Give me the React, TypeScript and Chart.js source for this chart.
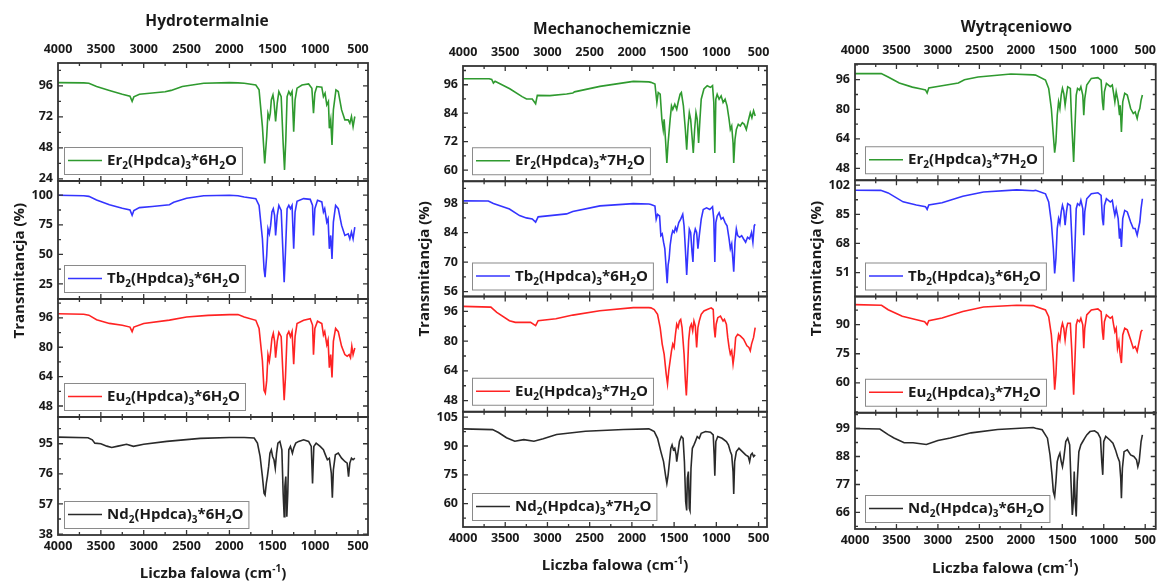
import React, { useEffect, useRef } from "react";
import { Chart, registerables } from "chart.js";

Chart.register(...registerables);

// ---------- axis ticks ----------
const X_TICKS = [4000, 3500, 3000, 2500, 2000, 1500, 1000, 500];
const X_MINOR = [3750, 3250, 2750, 2250, 1750, 1250, 750];

// ---------- Hydrotermalnie ----------
const HY_ER_WN = [4000,3700,3640,3550,3400,3250,3160,3135,3115,3050,2900,2750,2680,2550,2300,2000,1900,1827,1692,1654,1615,1588,1565,1550,1534,1523,1511,1492,1480,1461,1442,1423,1396,1373,1357,1342,1327,1307,1288,1269,1250,1234,1211,1153,1076,1038,1019,1003,980,922,903,884,864,845,834,818,803,787,757,730,691,653,614,595,576,557,537];
const HY_ER_T = [98.5,98.3,98,95.5,92.5,89.5,88,84,87.5,89.5,90.5,91.5,92.5,95.5,98,98.5,98.3,98,96.7,92.9,64.5,36,56.8,74.8,71,74.8,85.1,89,83.9,68.4,82.6,91.6,87.7,51.6,31,54.2,87.7,91.6,89,91.6,60.6,85.1,94.2,96.7,97.5,94.2,74.8,90.3,95.5,95,87.7,90.3,81.3,83.9,63.2,69.7,50.3,77.4,92.9,91.6,77.4,69.7,69.7,67.1,72.3,64.5,72.3];

const HY_TB_WN = [4000,3700,3640,3550,3400,3250,3160,3135,3115,3050,2900,2700,2650,2500,2300,2000,1900,1827,1692,1654,1615,1596,1584,1565,1550,1534,1519,1504,1488,1473,1461,1442,1423,1396,1377,1361,1346,1327,1307,1288,1269,1250,1234,1211,1134,1057,1030,1019,1003,972,922,903,888,864,849,834,818,803,787,761,730,691,653,614,595,576,557,537];
const HY_TB_T = [100,99.5,99,96,92,89,87.5,83,87,89.5,90.5,92,94,97.5,99.5,100,99.5,98.5,97.1,91.4,63.2,37.8,30.7,49,71.6,67.4,74.5,85.8,88.6,83,66,83,91.4,87.2,54.7,26.5,51.9,88.6,91.4,88.6,91.4,54.7,85.8,94.8,97.1,96.5,91.4,66,88.6,95.7,94.3,85.8,88.6,77.3,80.1,54.7,66,46.2,77.3,91.4,88.6,74.5,66,67.4,63.2,68.8,63.2,73.1];

const HY_EU_WN = [4000,3700,3640,3550,3400,3250,3160,3135,3115,3000,2700,2500,2250,2000,1900,1827,1692,1654,1615,1596,1581,1565,1550,1534,1519,1504,1488,1473,1461,1442,1423,1396,1377,1361,1346,1327,1307,1288,1269,1250,1234,1211,1134,1057,1030,1019,1003,972,922,903,888,864,849,834,818,803,787,761,730,691,653,626,603,587,572,557,537];
const HY_EU_T = [98.3,98,97.5,95,93,92,91,88.5,91,93,94.8,96.5,97.4,97.8,97.8,96.5,94.7,90.3,72.5,56.5,55,61.8,76,72.5,77.8,84.9,87.6,83.2,74.3,83.2,88.1,85.8,67.1,51.2,63.6,86.7,88.5,85.8,88.5,70.7,85.8,92.9,94.7,95.6,92.1,76,90.3,94.2,92.9,86.7,88.5,81.4,84,68.9,76,63.6,83.2,90.3,88.5,80.5,76,75.1,76,74.3,80.5,76,79.6];

const HY_ND_WN = [4000,3650,3600,3570,3500,3430,3373,3300,3200,3120,3000,2730,2340,2000,1900,1827,1711,1673,1642,1615,1596,1584,1569,1557,1542,1527,1511,1496,1480,1465,1450,1434,1411,1388,1373,1361,1353,1342,1330,1319,1307,1288,1265,1250,1226,1192,1134,1076,1045,1030,1015,988,941,903,880,857,834,811,799,787,764,730,691,653,626,610,595,576,557,537];
const HY_ND_T = [99.2,98.8,97.5,95.4,95,93.5,92.7,93.5,94.7,93.4,94.7,96.5,98.4,99,99,99,98.6,95.4,87,74.3,63.8,62.7,70.1,74.3,80.7,89.1,91.2,87,84.9,79.6,89.1,95.4,96.5,91.2,63.8,49,68,74.3,49,63.8,91.2,93.3,89.1,92.3,95.4,96.5,97.5,96.5,93.3,70,93.3,95.4,93.3,91.2,88,84.9,85.9,76.4,61,78.5,88,89.1,85.9,83.8,82.8,74.3,82.8,85.9,84.9,85.9];

// ---------- Mechanochemicznie ----------
const ME_ER_WN = [4000,3690,3660,3640,3620,3446,3300,3248,3180,3140,3120,2970,2773,2700,2680,2378,1983,1800,1774,1727,1704,1688,1665,1645,1629,1618,1602,1586,1571,1547,1531,1516,1492,1469,1453,1429,1414,1390,1367,1351,1335,1320,1304,1288,1273,1257,1241,1226,1210,1194,1179,1147,1108,1069,1045,1030,1018,1006,990,967,943,920,896,873,849,834,818,802,794,779,763,740,716,692,669,645,622,598,579,559,540];
const ME_ER_T = [98.5,98.5,98.2,96.7,97.5,94.3,91,90,90,88,91.5,91.4,92.1,92.5,93,95.3,97.4,97.2,97,96.3,88.5,92.7,92,81.4,77.1,81.4,72.9,63,71.5,81.4,87.1,85.6,87.8,85.6,88.5,92,92.7,87.1,77.1,68.6,78.6,84.2,81.4,74.3,67.2,77.1,84.2,81.4,71.5,81.4,89.9,94.2,95.6,94.9,95.6,88.5,67.2,89.9,92,89.9,91.3,88.5,89.9,87.1,81.4,77.1,78.6,71.5,63,72.9,77.1,79.3,78.6,80,79.3,77.1,80.7,84.2,82.1,85,82.8];

const ME_TB_WN = [4000,3700,3640,3450,3330,3250,3180,3140,3110,2970,2773,2700,2378,1983,1800,1774,1727,1712,1696,1672,1657,1641,1625,1610,1594,1582,1571,1559,1547,1531,1516,1500,1484,1469,1445,1422,1398,1382,1367,1351,1335,1320,1304,1288,1277,1265,1249,1233,1218,1202,1179,1155,1116,1077,1045,1030,1018,1006,990,967,943,920,896,873,849,834,818,802,794,779,763,747,724,700,677,653,630,606,583,567,551,540];
const ME_TB_T = [99.1,99,97.8,95.2,92.1,91,90.5,89,91.5,92.1,92.9,94,96.7,97.8,97.6,97.4,96.6,90.4,92.7,91.9,82.6,83.4,79.5,76.4,67,60,68.6,71.7,77.9,82.6,84.9,84.1,86.5,84.9,88.8,90.4,92.7,87.3,76.4,63.9,76.4,85.7,84.1,74.8,70.1,82.6,85.7,84.1,76.4,82.6,90.4,95,95.8,95,96.3,90.4,70.1,88.8,91.9,93.5,90.4,91.2,88.8,87.3,81,76.4,78.7,70.1,65.5,79.5,85.7,82.6,81.8,82.6,81,79.5,81.8,81,84.1,79.5,87.3,88];

const ME_EU_WN = [4000,3670,3600,3450,3380,3200,3140,3110,2900,2700,2380,1983,1800,1774,1735,1696,1665,1641,1618,1594,1578,1563,1547,1531,1516,1500,1484,1469,1453,1437,1422,1406,1382,1367,1355,1343,1328,1312,1296,1280,1265,1249,1233,1218,1202,1179,1147,1108,1061,1037,1026,1014,1002,983,951,920,904,881,865,849,834,818,802,787,771,747,716,677,638,614,598,583,559,540];
const ME_EU_T = [98.7,98.3,95.5,91,90.1,90.1,88.3,91,92,94,96.3,98,98,97.9,97,94.4,87.3,78.4,73,62.4,57,64.2,69.5,74.8,78.4,76.6,83.7,89.1,87.3,90.8,91.7,87.3,73,58.8,50.8,62.4,80.2,87.3,89.1,85.5,90.8,88.2,76.6,87.3,90.8,94.4,96.2,97,97.9,97,87.3,82,89.1,92.6,93.5,90.8,91.7,89.1,82,76.6,73,74.8,67.7,73,82,83.7,82.8,81,77.5,76.6,74.8,78.4,82,87.3];

const ME_ND_WN = [4000,3650,3580,3485,3387,3280,3160,3050,2892,2550,2100,1800,1774,1735,1696,1657,1625,1602,1586,1571,1555,1539,1524,1508,1492,1476,1469,1453,1437,1414,1394,1378,1363,1351,1343,1331,1320,1312,1300,1284,1265,1249,1226,1202,1179,1128,1069,1037,1026,1018,1006,983,932,881,857,834,818,802,794,783,763,732,692,653,622,606,591,575,559,540];
const ME_ND_T = [98.9,98.5,97,94.3,92.5,93.3,92.5,93.8,96,97.7,98.6,98.9,98.4,97.5,94,87.1,81.9,74.9,70.6,74.9,81.9,88.8,90.6,88,88.8,85.4,81.9,87.1,92.3,94.9,94,81.9,61,56.5,73.2,76.7,57.6,56.5,78.4,88.8,90.6,92.3,94.9,94,96.6,97.5,97.2,95.8,85.4,74.5,92.3,94.9,94,92.3,90.6,87.1,85.4,76.7,65,81.9,87.1,88.8,87.1,85.4,84.5,81.9,85.4,86.2,84.5,85.4];

// ---------- Wytrąceniowo ----------
const WY_ER_WN = [4000,3683,3600,3466,3308,3200,3150,3130,3110,2952,2754,2680,2516,2120,1850,1822,1703,1664,1632,1608,1592,1577,1561,1545,1529,1513,1498,1482,1466,1450,1435,1403,1387,1363,1348,1332,1316,1292,1276,1253,1241,1229,1205,1150,1071,1032,1016,1004,992,968,921,897,881,866,850,826,810,802,787,771,747,716,676,644,621,597,581,565,550,534];
const WY_ER_T = [99.3,99.3,97.5,94.2,92,91,90.5,88.8,91.5,92.7,94.2,96,97.5,99.1,98.6,98.5,95.8,91.3,80.4,65.9,56.5,62.3,76.8,84,80.4,87.7,91.3,88.6,82.2,87.7,92.2,91.3,73.2,51.5,69.5,87.7,91.3,90.4,92.2,87.7,76.8,85.8,93.1,96.7,97.1,95.8,84,79.5,89.5,94,92.2,93.1,88.6,84,89.5,84,76.8,82.2,67.7,84,88.6,87.7,80.4,77.7,78.6,75,78.6,80.4,84.9,87.7];

const WY_TB_WN = [4000,3690,3600,3420,3260,3150,3130,3110,2950,2700,2450,2050,1850,1822,1703,1664,1632,1608,1592,1577,1561,1545,1529,1513,1498,1482,1466,1450,1435,1403,1387,1363,1348,1332,1316,1292,1276,1253,1241,1229,1205,1150,1071,1032,1016,1004,992,968,921,897,881,866,850,826,810,802,787,771,747,716,676,644,621,597,581,565,550,534];
const WY_TB_T = [99.1,99,97.5,92.3,90.4,89.5,87.9,90.5,91.8,95.6,98,99.3,98.8,99,97,92.2,80.5,65,50.5,59.2,76.7,82.5,79.6,86.4,90.2,87.3,78.6,86.4,91.2,90.2,72.8,45.6,65,88.3,91.2,90.2,93.2,88.3,72.8,86.4,94.1,97,97.6,96.1,82.5,78.6,90.2,94.1,92.2,93.2,88.3,84.4,88.3,82.5,70.8,76.7,66,82.5,87.3,86.4,80.5,76.7,76.7,72.8,76.7,80.5,88.3,94.1];

const WY_EU_WN = [4000,3680,3600,3430,3270,3160,3130,3110,2950,2700,2450,2050,1850,1822,1703,1664,1632,1608,1592,1577,1561,1545,1529,1513,1498,1482,1466,1450,1435,1403,1387,1363,1348,1332,1316,1292,1276,1253,1241,1229,1205,1150,1071,1032,1016,1004,992,968,921,897,881,866,850,834,818,802,787,771,747,716,676,644,621,597,581,565,550,534];
const WY_EU_T = [100.3,100,97.7,94.3,92.6,91.5,90,92,93.4,96.8,99.1,100,99.8,99.3,97.6,94.1,84.7,71,56.5,64.2,79.6,84.7,82.2,88.1,90.7,88.1,82.2,88.1,90.7,90.7,77.9,53.9,71,89.9,92.4,91.5,93.3,89.9,77.9,88.1,95,97.6,98.1,96.7,86.4,82.2,91.5,95,93.3,94.1,89.9,86.4,88.1,77.9,81.3,74.4,70.2,84.7,88.1,87.3,82.2,77.9,78.7,76.2,79.6,83,86.4,87.3];

const WY_ND_WN = [4000,3700,3600,3530,3407,3300,3139,3000,2850,2600,2280,1850,1822,1743,1679,1648,1624,1608,1592,1577,1561,1545,1529,1513,1498,1482,1458,1435,1411,1395,1379,1367,1356,1344,1332,1320,1300,1276,1253,1229,1205,1166,1111,1071,1040,1024,1012,1000,976,929,889,858,834,810,795,787,775,755,716,676,637,605,589,573,550,534];
const WY_ND_T = [99,98.8,96.6,95.3,93.4,93.4,92.7,94.3,95.3,97.3,98.6,99.4,99.1,98.5,95.2,88.6,80.8,74.2,72.3,78.1,86,88,89.3,86,84,87.3,93.9,95.2,92.6,78.1,65,70.3,82.1,70.3,64.4,78.1,89.9,92.6,93.9,95.2,96.5,97.8,98.1,97.2,95.2,86,80.8,93.9,95.9,94.6,93.2,90.6,88,86,79.5,71.6,83.4,89.9,90.6,88.6,88,86.7,84,86,93.9,96.5];

// ---------- labels ----------
const COLUMN_TITLES = ["Hydrotermalnie", "Mechanochemicznie", "Wytrąceniowo"];
const HY_LABELS = ["Er₂(Hpdca)₃*6H₂O", "Tb₂(Hpdca)₃*6H₂O", "Eu₂(Hpdca)₃*6H₂O", "Nd₂(Hpdca)₃*6H₂O"];
const ME_LABELS = ["Er₂(Hpdca)₃*7H₂O", "Tb₂(Hpdca)₃*6H₂O", "Eu₂(Hpdca)₃*7H₂O", "Nd₂(Hpdca)₃*7H₂O"];
const WY_LABELS = ["Er₂(Hpdca)₃*7H₂O", "Tb₂(Hpdca)₃*6H₂O", "Eu₂(Hpdca)₃*7H₂O", "Nd₂(Hpdca)₃*6H₂O"];
const X_TITLE = "Liczba falowa (cm⁻¹)";
const Y_TITLE = "Transmitancja (%)";

// y tick labels per panel
const HY_YTICKS = [[24, 48, 72, 96], [25, 50, 75, 100], [48, 64, 80, 96], [38, 57, 76, 95]];
const ME_YTICKS = [[60, 72, 84, 96], [56, 70, 84, 98], [48, 64, 80, 96], [60, 75, 90, 105]];
const WY_YTICKS = [[48, 64, 80, 96], [51, 68, 85, 102], [60, 75, 90], [66, 77, 88, 99]];

const COLORS = ["#2f9a2f", "#3434ff", "#ff2323", "#2a2a2a"];
const FONT = "'Open Sans', 'DejaVu Sans', sans-serif";
const TEXT = "#1a1a1a";

type PanelCfg = { wn: number[]; t: number[]; label: string; min: number; max: number; ticks: number[] };
type ColCfg = {
  title: string; left: number; width: number; xMin: number;
  pad: { left: number; right: number; top: number; bottom: number };
  titleDx: number; titleY: number; xTitleY: number; legendDx: number;
  panels: PanelCfg[];
};

const mk = (wn: number[], t: number[], label: string, min: number, max: number, ticks: number[]): PanelCfg =>
  ({ wn, t, label, min, max, ticks });

const COLUMNS: ColCfg[] = [
  {
    title: COLUMN_TITLES[0], left: 0, width: 392, xMin: 383,
    pad: { left: 28, right: 24, top: 41, bottom: 24 },
    titleDx: -6, titleY: 21, xTitleY: 573, legendDx: 6,
    panels: [
      mk(HY_ER_WN, HY_ER_T, HY_LABELS[0], 22.4, 113.7, HY_YTICKS[0]),
      mk(HY_TB_WN, HY_TB_T, HY_LABELS[1], 12.3, 112, HY_YTICKS[1]),
      mk(HY_EU_WN, HY_EU_T, HY_LABELS[2], 42, 106.3, HY_YTICKS[2]),
      mk(HY_ND_WN, HY_ND_T, HY_LABELS[3], 37.4, 111.9, HY_YTICKS[3]),
    ],
  },
  {
    title: COLUMN_TITLES[1], left: 392, width: 392, xMin: 400,
    pad: { left: 41, right: 17, top: 44, bottom: 32 },
    titleDx: -3, titleY: 29, xTitleY: 565, legendDx: 9,
    panels: [
      mk(ME_ER_WN, ME_ER_T, ME_LABELS[0], 55.3, 103.9, ME_YTICKS[0]),
      mk(ME_TB_WN, ME_TB_T, ME_LABELS[1], 53.7, 108.4, ME_YTICKS[1]),
      mk(ME_EU_WN, ME_EU_T, ME_LABELS[2], 42, 104, ME_YTICKS[2]),
      mk(ME_ND_WN, ME_ND_T, ME_LABELS[3], 47.9, 107.8, ME_YTICKS[3]),
    ],
  },
  {
    title: COLUMN_TITLES[2], left: 784, width: 378, xMin: 373,
    pad: { left: 41, right: 2, top: 42, bottom: 30 },
    titleDx: 11, titleY: 27, xTitleY: 568, legendDx: 10,
    panels: [
      mk(WY_ER_WN, WY_ER_T, WY_LABELS[0], 41.6, 104.5, WY_YTICKS[0]),
      mk(WY_TB_WN, WY_TB_T, WY_LABELS[1], 37, 104.9, WY_YTICKS[1]),
      mk(WY_EU_WN, WY_EU_T, WY_LABELS[2], 44.6, 104.5, WY_YTICKS[2]),
      mk(WY_ND_WN, WY_ND_T, WY_LABELS[3], 59.5, 105.2, WY_YTICKS[3]),
    ],
  },
];

// ---------- rich text (sub/superscripts) ----------
const SUB_CH = "₀₁₂₃₄₅₆₇₈₉";
const SUP_CH: Record<string, string> = { "⁻": "-", "¹": "1", "²": "2", "³": "3" };

function splitRich(s: string) {
  const runs: { t: string; k: number }[] = [];
  for (const ch of s) {
    let k = 0;
    let t = ch;
    const si = SUB_CH.indexOf(ch);
    if (si >= 0) { k = 1; t = String(si); }
    else if (SUP_CH[ch]) { k = 2; t = SUP_CH[ch]; }
    const last = runs[runs.length - 1];
    if (last && last.k === k) last.t += t;
    else runs.push({ t, k });
  }
  return runs;
}

function richFont(k: number, size: number) {
  return `bold ${k ? Math.round(size * 0.68) : size}px ${FONT}`;
}

function measureRich(ctx: CanvasRenderingContext2D, s: string, size: number) {
  let w = 0;
  for (const r of splitRich(s)) { ctx.font = richFont(r.k, size); w += ctx.measureText(r.t).width; }
  return w;
}

function drawRich(ctx: CanvasRenderingContext2D, s: string, x: number, baseline: number, size: number, center: boolean) {
  const total = measureRich(ctx, s, size);
  let cx = center ? x - total / 2 : x;
  ctx.textAlign = "left";
  ctx.textBaseline = "alphabetic";
  ctx.fillStyle = TEXT;
  for (const r of splitRich(s)) {
    ctx.font = richFont(r.k, size);
    const dy = r.k === 1 ? size * 0.28 : r.k === 2 ? -size * 0.42 : 0;
    ctx.fillText(r.t, cx, baseline + dy);
    cx += ctx.measureText(r.t).width;
  }
  return total;
}

// ---------- decoration plugin: frames, inner ticks, legends, titles ----------
const decorPlugin = {
  id: "decor",
  afterDraw(chart: any) {
    const col: ColCfg = chart.options.plugins.decor.col;
    const ctx: CanvasRenderingContext2D = chart.ctx;
    const { left, right, top, bottom } = chart.chartArea;
    const xs = chart.scales.x;
    ctx.save();
    col.panels.forEach((p, i) => {
      const ys = chart.scales["y" + i];
      const pt = ys.top;
      const pb = ys.bottom;
      ctx.strokeStyle = "#333";
      ctx.lineWidth = 1.3;
      ctx.beginPath();
      const step = p.ticks[1] - p.ticks[0];
      for (let v = p.ticks[0] - step * 2; v <= p.max; v += step / 2) {
        if (v <= p.min || v >= p.max) continue;
        const major = p.ticks.includes(Math.round(v * 100) / 100);
        const len = major ? 5 : 3;
        const py = ys.getPixelForValue(v);
        ctx.moveTo(left, py); ctx.lineTo(left + len, py);
        ctx.moveTo(right, py); ctx.lineTo(right - len, py);
      }
      X_TICKS.concat(X_MINOR).forEach((v) => {
        const px = xs.getPixelForValue(v);
        if (px <= left + 1 || px >= right - 1) return;
        const len = X_TICKS.includes(v) ? 5 : 3;
        ctx.moveTo(px, pt); ctx.lineTo(px, pt + len);
        ctx.moveTo(px, pb); ctx.lineTo(px, pb - len);
      });
      ctx.stroke();
      ctx.lineWidth = 1.8;
      ctx.strokeRect(left, pt, right - left, pb - pt);

      // legend box
      const size = 15;
      const tw = measureRich(ctx, p.label, size);
      const lh = 27;
      const lx = left + col.legendDx;
      const ly = pb - 7 - lh;
      const lw = tw + 48;
      ctx.fillStyle = "#fff";
      ctx.fillRect(lx, ly, lw, lh);
      ctx.strokeStyle = "#8a8a8a";
      ctx.lineWidth = 1;
      ctx.strokeRect(lx + 0.5, ly + 0.5, lw, lh);
      ctx.strokeStyle = COLORS[i];
      ctx.lineWidth = 1.6;
      ctx.beginPath();
      ctx.moveTo(lx + 4, ly + lh / 2);
      ctx.lineTo(lx + 38, ly + lh / 2);
      ctx.stroke();
      drawRich(ctx, p.label, lx + 43, ly + lh / 2 + 4.5, size, false);
    });

    // titles
    const cx = (left + right) / 2;
    drawRich(ctx, col.title, cx + col.titleDx, col.titleY + 5, 15.5, true);
    drawRich(ctx, X_TITLE, cx, col.xTitleY + 5, 15, true);
    ctx.save();
    ctx.translate(left - 39, top + (bottom - top) * 0.44);
    ctx.rotate(-Math.PI / 2);
    drawRich(ctx, Y_TITLE, 0, 5, 15, true);
    ctx.restore();
    ctx.restore();
  },
};

function Column({ col }: { col: ColCfg }) {
  const ref = useRef<HTMLCanvasElement>(null);
  useEffect(() => {
    const tickFont = { family: FONT, size: 12.5, weight: "bold" as const };
    const xAxis = (position: string, padding: number) => ({
      type: "linear",
      position,
      reverse: true,
      min: col.xMin,
      max: 4000,
      afterBuildTicks: (s: any) => { s.ticks = X_TICKS.map((v) => ({ value: v })); },
      ticks: { font: tickFont, color: TEXT, padding, maxRotation: 0, autoSkip: false, callback: (v: any) => String(v) },
      grid: { display: false, drawTicks: false },
      border: { display: false },
      afterFit: (s: any) => { s.height = 22; },
    });
    const scales: any = { x: xAxis("bottom", 4), xTop: xAxis("top", 6) };
    col.panels.forEach((p, i) => {
      scales["y" + i] = {
        type: "linear",
        position: "left",
        stack: "col",
        stackWeight: 1,
        weight: 10 - i,
        min: p.min,
        max: p.max,
        afterBuildTicks: (s: any) => { s.ticks = p.ticks.map((v) => ({ value: v })); },
        ticks: { font: tickFont, color: TEXT, padding: 5, callback: (v: any) => String(v) },
        grid: { display: false, drawTicks: false },
        border: { display: false },
        afterFit: (s: any) => { s.width = 30; },
      };
    });
    const datasets = col.panels.map((p, i) => ({
      label: p.label,
      data: p.wn.map((w, j) => ({ x: w, y: p.t[j] })),
      xAxisID: "x",
      yAxisID: "y" + i,
      borderColor: COLORS[i],
      borderWidth: 1.6,
      pointRadius: 0,
      tension: 0,
      fill: false,
    }));
    const chart = new Chart(ref.current as HTMLCanvasElement, {
      type: "line",
      data: { datasets },
      options: {
        responsive: false,
        animation: false,
        layout: { padding: col.pad },
        plugins: {
          legend: { display: false },
          title: { display: false },
          tooltip: { enabled: false },
          decor: { col },
        } as any,
        scales,
      },
      plugins: [decorPlugin],
    } as any);
    return () => chart.destroy();
  }, [col]);
  return (
    <canvas
      ref={ref}
      width={col.width}
      height={581}
      style={{ position: "absolute", left: col.left, top: 0, width: col.width, height: 581 }}
    />
  );
}

export default function App() {
  return (
    <div style={{ position: "absolute", left: 0, top: 0, width: 1162, height: 581, background: "#fff" }}>
      {COLUMNS.map((c, i) => (
        <Column key={i} col={c} />
      ))}
    </div>
  );
}
